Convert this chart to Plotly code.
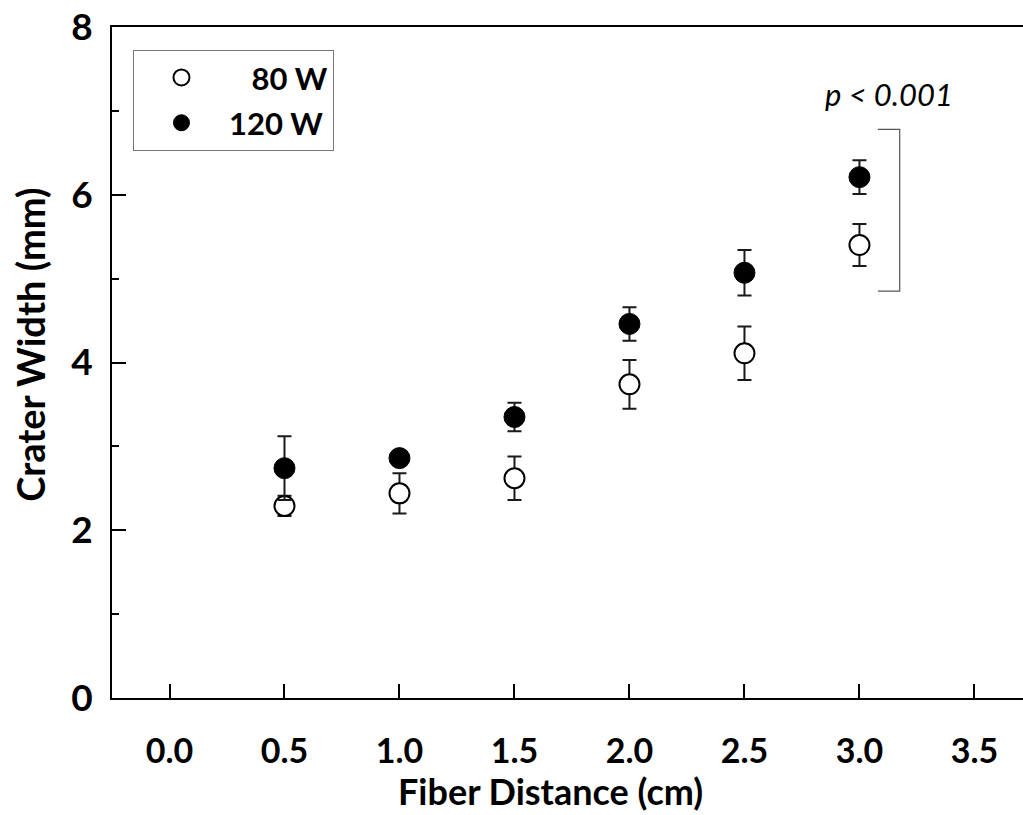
import plotly.graph_objects as go

distance = [0.5, 1.0, 1.5, 2.0, 2.5, 3.0]
width_80w = [2.29, 2.44, 2.62, 3.74, 4.11, 5.40]
err_80w = [0.12, 0.24, 0.26, 0.29, 0.32, 0.25]
width_120w = [2.74, 2.86, 3.35, 4.46, 5.07, 6.21]
err_120w = [0.38, 0.08, 0.17, 0.20, 0.27, 0.20]

x_ticks = [0.0, 0.5, 1.0, 1.5, 2.0, 2.5, 3.0, 3.5]
x_ticklabels = ["0.0", "0.5", "1.0", "1.5", "2.0", "2.5", "3.0", "3.5"]
y_ticks = [0, 2, 4, 6, 8]

# significance bracket (data units)
bracket_x_left, bracket_x_right = 3.08, 3.175
bracket_y_top, bracket_y_bottom = 6.78, 4.85
p_text = "p < 0.001"
x_title = "Fiber Distance (cm)"
y_title = "Crater Width (mm)"

FONT = "Lato"

fig = go.Figure()
fig.add_trace(go.Scatter(
    x=distance, y=width_80w, mode="markers", name="\u00a0\u00a0\u00a080 W",
    legendgroup="a",
    marker=dict(symbol="circle", size=20, color="white",
                line=dict(color="black", width=2)),
    error_y=dict(type="data", array=err_80w, color="#1a1a1a",
                 thickness=2, width=7),
))
fig.add_trace(go.Scatter(
    x=distance, y=width_120w, mode="markers", name="120 W",
    legendgroup="b",
    marker=dict(symbol="circle", size=21, color="black",
                line=dict(color="black", width=1)),
    error_y=dict(type="data", array=err_120w, color="#1a1a1a",
                 thickness=2, width=7),
))

fig.add_shape(type="path",
              path=f"M {bracket_x_left},{bracket_y_top} L {bracket_x_right},{bracket_y_top} "
                   f"L {bracket_x_right},{bracket_y_bottom} L {bracket_x_left},{bracket_y_bottom}",
              xref="x", yref="y", line=dict(color="#555555", width=1.2))
fig.add_annotation(x=3.13, y=7.2, xref="x", yref="y", text=f"<i>{p_text}</i>",
                   showarrow=False, font=dict(family=FONT, size=31, color="black"))

# axis titles (placed as in the reference, slightly off-centre)
fig.add_annotation(x=0.472, y=-0.139, xref="paper", yref="paper", text=f"<b>{x_title}</b>",
                   showarrow=False, xanchor="center", yanchor="middle",
                   font=dict(family=FONT, size=36, color="black"))
fig.add_annotation(x=-0.088, y=0.527, xref="paper", yref="paper", text=f"<b>{y_title}</b>",
                   showarrow=False, xanchor="center", yanchor="middle", textangle=-90,
                   font=dict(family=FONT, size=38, color="black"))

fig.update_layout(
    width=1040, height=815,
    margin=dict(l=112, r=0, t=27, b=117, autoexpand=False),
    plot_bgcolor="white", paper_bgcolor="white",
    showlegend=True,
    legend=dict(x=0.0226, y=0.966, xanchor="left", yanchor="top",
                bgcolor="white", bordercolor="#777777", borderwidth=1,
                font=dict(family=FONT, size=31, color="black", weight="bold"),
                traceorder="grouped", tracegroupgap=2, itemwidth=85),
    xaxis=dict(range=[-0.25, 3.785], tickvals=x_ticks, ticktext=x_ticklabels,
               ticks="inside", ticklen=14, tickwidth=2, tickcolor="black",
               showline=True, linewidth=2, linecolor="black", mirror=True,
               showgrid=False, zeroline=False, ticklabelstandoff=22, automargin=False,
               tickfont=dict(family=FONT, size=34, color="black", weight="bold")),
    yaxis=dict(range=[0, 8], tickvals=y_ticks,
               ticks="inside", ticklen=14, tickwidth=2, tickcolor="black",
               minor=dict(dtick=1, ticks="inside", ticklen=7, tickwidth=2, tickcolor="black"),
               showline=True, linewidth=2, linecolor="black",
               showgrid=False, zeroline=False, ticklabelstandoff=10, automargin=False,
               tickfont=dict(family=FONT, size=37, color="black", weight="bold")),
)

# remove the default page margin so the figure sits at the window's top-left corner;
# the plot runs past the right edge of the window, as in the reference crop
fig.write_html("out.html",
               config={"displayModeBar": False},
               post_script="document.body.style.margin='0';document.body.style.overflow='hidden';")
